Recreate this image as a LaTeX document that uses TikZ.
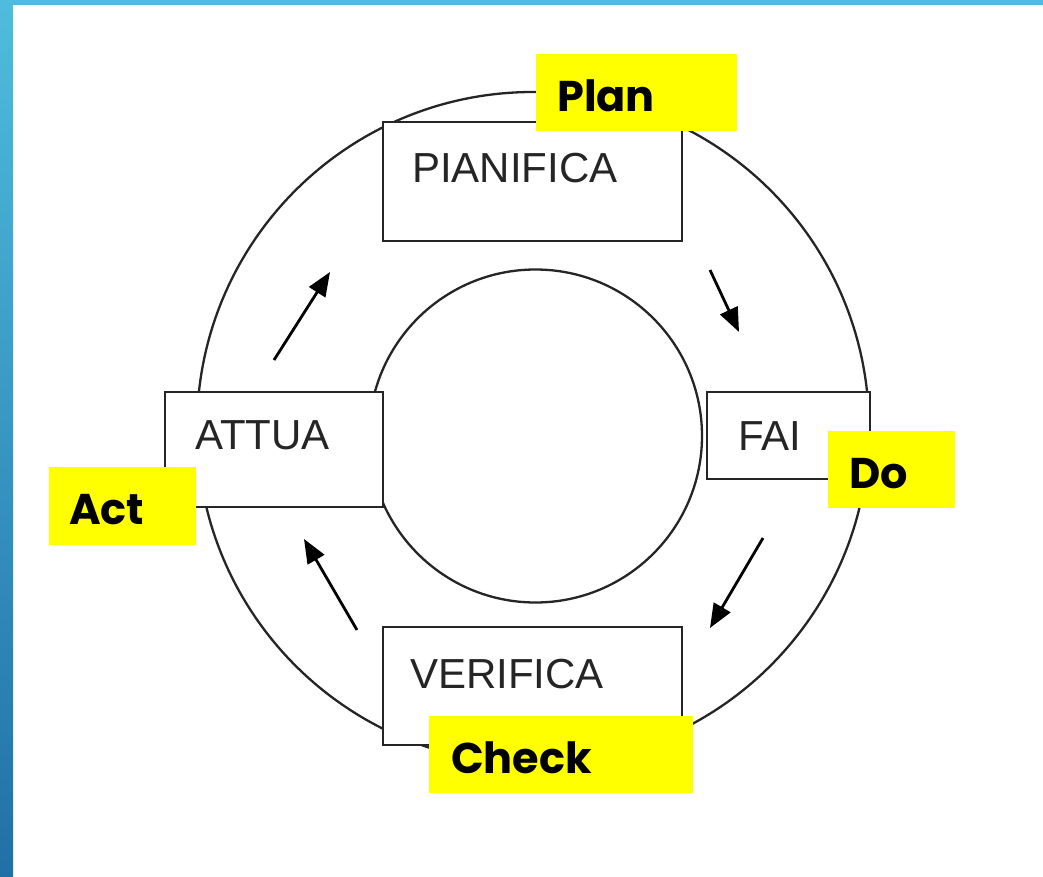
\documentclass[tikz,border=0pt]{standalone}
\usepackage{fontspec}
\newfontfamily\boxfont{Liberation Sans}
\newfontfamily\labfont{Poppins}
\usetikzlibrary{arrows.meta}
\definecolor{frameTop}{HTML}{50BCDD}
\definecolor{frameBot}{HTML}{2070A8}
\definecolor{ink}{HTML}{252525}
\definecolor{hl}{HTML}{FFFF00}
\tikzset{
  ring/.style={draw=ink, line width=2.3pt},
  stepbox/.style={draw=ink, line width=2.8pt, fill=white},
  boxtext/.style={anchor=base west, inner sep=0pt, text=ink, font=\boxfont\fontsize{42}{42}\selectfont},
  hlbox/.style={fill=hl, draw=none},
  hltext/.style={anchor=base west, inner sep=0pt, text=black, font=\labfont\bfseries\fontsize{43}{43}\selectfont},
  flow/.style={draw=black, line width=2.8pt, -{Triangle[length=24pt,width=19pt]}}
}
\begin{document}
\begin{tikzpicture}[x=1pt,y=-1pt]
\useasboundingbox (0,0) rectangle (1043,877);
% frame
\fill[white] (0,0) rectangle (1043,877);
\shade[top color=frameTop, bottom color=frameBot] (0,0) rectangle (13,877);
\fill[frameTop] (0,0) rectangle (1043,5);
% rings
\draw[ring] (533,428) circle[radius=336];
\draw[ring] (535.5,436) circle[radius=166.5];
% step boxes
\draw[stepbox] (383,122) rectangle (682,241);
\draw[stepbox] (707,392) rectangle (870,479);
\draw[stepbox] (383,627) rectangle (682,745);
\draw[stepbox] (165,392) rectangle (383,507);
\node[boxtext] (pian) at (412,183) {PIANIFICA};
\node[boxtext] (fai) at (738,450) {FAI};
\node[boxtext] (veri) at (410,688) {VERIFICA};
\node[boxtext] (attua) at (195,449) {ATTUA};
% arrows
\coordinate (a1s) at (710,270); \coordinate (a1e) at (739,332);
\coordinate (a2s) at (763,538); \coordinate (a2e) at (710,628);
\coordinate (a3s) at (357,630); \coordinate (a3e) at (304,539);
\coordinate (a4s) at (274,360); \coordinate (a4e) at (330,272);
\draw[flow] (a1s) -- (a1e);
\draw[flow] (a2s) -- (a2e);
\draw[flow] (a3s) -- (a3e);
\draw[flow] (a4s) -- (a4e);
% highlight labels
\fill[hlbox] (536,54) rectangle (737,131);
\fill[hlbox] (828,431) rectangle (955,508);
\fill[hlbox] (429,716) rectangle (693,793);
\fill[hlbox] (49,467) rectangle (196,545);
\node[hltext] (plan) at (557,112) {Plan};
\node[hltext] (do) at (849,488) {Do};
\node[hltext] (check) at (451,773) {Check};
\node[hltext] (act) at (69,524) {Act};
\end{tikzpicture}
\end{document}
